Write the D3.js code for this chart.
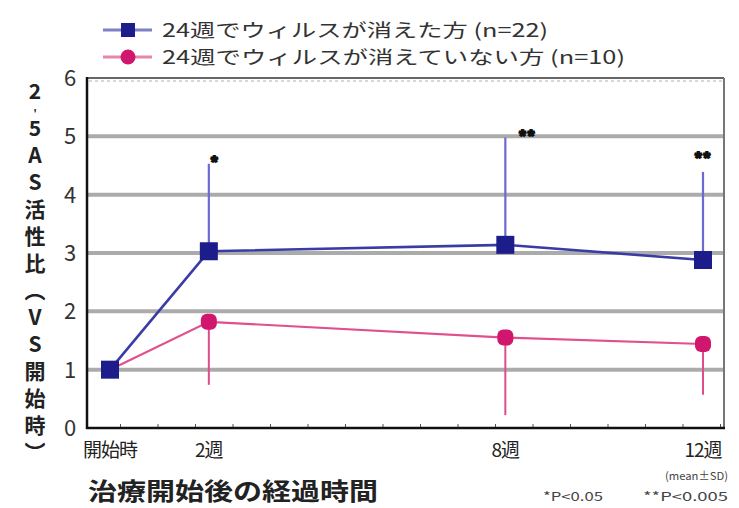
<!DOCTYPE html>
<html>
<head>
<meta charset="utf-8">
<script src="https://cdn.jsdelivr.net/npm/d3@7"></script>
<style>
  body { margin: 0; background: #fff; }
  svg text { font-family: "Noto Sans CJK JP", "Noto Sans", sans-serif; }
</style>
</head>
<body>
<svg id="chart"></svg>
<script>
// data
const weeks = [0, 2, 8, 12];
const weekLabels = ["開始時", "2週", "8週", "12週"];
const clearedMean = [1.0, 3.03, 3.14, 2.88];
const clearedUpper = [1.0, 4.53, 4.98, 4.39];
const notClearedMean = [1.0, 1.82, 1.55, 1.44];
const notClearedLower = [1.0, 0.74, 0.22, 0.57];
const sigMarks = ["", "*", "**", "**"];
const yTicks = [0, 1, 2, 3, 4, 5, 6];
const seriesNames = ["24週でウィルスが消えた方 (n=22)", "24週でウィルスが消えていない方 (n=10)"];
const yTitleParts = ["2", "'", "5AS活性比（VS開始時）"];
const xTitle = "治療開始後の経過時間";
const notes = ["(mean±SD)", "*P<0.05", "**P<0.005"];

const W = 739, H = 508;
const svg = d3.select("#chart").attr("width", W).attr("height", H);

const frame = { left: 87, right: 724, top: 78, bottom: 428 };
const x = d3.scaleLinear().domain([0, 12]).range([110, 703]);
const y = d3.scaleLinear().domain([0, 6]).range([frame.bottom, frame.top]);

const blueLine = "#3b3ba6", blueMark = "#1c1c8a", blueErr = "#6a6ad0";
const pinkLine = "#e0508c", pinkMark = "#d1166e", pinkErr = "#dd4d8a";

// gridlines
svg.append("g")
  .selectAll("line")
  .data(yTicks.filter(d => d > 0 && d < 6))
  .join("line")
  .attr("x1", frame.left + 1).attr("x2", frame.right - 1)
  .attr("y1", d => y(d)).attr("y2", d => y(d))
  .attr("stroke", "#ababab").attr("stroke-width", 4);

// frame: top and right grey, left and bottom black
svg.append("line").attr("x1", frame.left).attr("x2", frame.right)
  .attr("y1", frame.top).attr("y2", frame.top)
  .attr("stroke", "#666").attr("stroke-width", 2);
svg.append("line").attr("x1", frame.left + 2).attr("x2", frame.right - 2)
  .attr("y1", frame.top + 3).attr("y2", frame.top + 3)
  .attr("stroke", "#ccc").attr("stroke-width", 1.5).attr("stroke-dasharray", "3,3");
svg.append("line").attr("x1", frame.right).attr("x2", frame.right)
  .attr("y1", frame.top).attr("y2", frame.bottom)
  .attr("stroke", "#777").attr("stroke-width", 2);

// bottom axis with small inward ticks
const tickScale = d3.scaleLinear().domain([0, 16]).range([120, 720]);
svg.append("g")
  .attr("transform", `translate(0,${frame.bottom})`)
  .call(d3.axisBottom(tickScale).tickValues(d3.range(0, 17)).tickSize(-4).tickFormat(""))
  .call(g => g.select(".domain").remove())
  .selectAll("line").attr("stroke", "#555");
svg.append("line").attr("x1", frame.left - 1).attr("x2", frame.right + 1)
  .attr("y1", frame.bottom).attr("y2", frame.bottom)
  .attr("stroke", "#111").attr("stroke-width", 2.5);
svg.append("line").attr("x1", frame.left).attr("x2", frame.left)
  .attr("y1", frame.top - 1).attr("y2", frame.bottom + 1)
  .attr("stroke", "#111").attr("stroke-width", 2.5);

// y tick labels
svg.append("g")
  .selectAll("text")
  .data(yTicks)
  .join("text")
  .attr("x", 70).attr("y", d => y(d))
  .attr("dy", "0.36em")
  .attr("text-anchor", "middle")
  .style("font-size", "22px").style("fill", "#333")
  .text(d => d);

// x tick labels
svg.append("g")
  .selectAll("text")
  .data(weeks)
  .join("text")
  .attr("x", d => x(d)).attr("y", 457)
  .attr("text-anchor", "middle")
  .style("font-size", "19px").style("fill", "#222")
  .style("letter-spacing", "-1px")
  .text((d, i) => weekLabels[i]);

// x axis title
svg.append("text")
  .attr("x", 88).attr("y", 500)
  .attr("textLength", 290).attr("lengthAdjust", "spacingAndGlyphs")
  .style("font-size", "24px").style("font-weight", "bold").style("fill", "#222")
  .text(xTitle);

// y axis title, vertical upright text
const yt = svg.append("text")
  .attr("x", 35).attr("y", 81)
  .style("writing-mode", "vertical-rl")
  .style("text-orientation", "upright")
  .style("font-size", "21px").style("font-weight", "bold").style("fill", "#222")
  .style("letter-spacing", "6px");
yt.selectAll("tspan")
  .data(yTitleParts)
  .join("tspan")
  .style("font-size", d => d === "'" ? "10px" : null)
  .style("letter-spacing", d => d === "'" ? "0px" : null)
  .text(d => d);

// footnotes
svg.append("text").attr("x", 665).attr("y", 480)
  .attr("textLength", 63).attr("lengthAdjust", "spacingAndGlyphs")
  .style("font-size", "11px").style("fill", "#444").text(notes[0]);
svg.append("text").attr("x", 543).attr("y", 501)
  .attr("textLength", 60).attr("lengthAdjust", "spacingAndGlyphs")
  .style("font-size", "12px").style("fill", "#444").text(notes[1]);
svg.append("text").attr("x", 643).attr("y", 501)
  .attr("textLength", 85).attr("lengthAdjust", "spacingAndGlyphs")
  .style("font-size", "12px").style("fill", "#444").text(notes[2]);

// error bars
const errG = svg.append("g");
errG.selectAll(".eb-blue")
  .data(weeks.slice(1))
  .join("line")
  .attr("x1", d => x(d)).attr("x2", d => x(d))
  .attr("y1", (d, i) => y(clearedMean[i + 1]))
  .attr("y2", (d, i) => y(clearedUpper[i + 1]))
  .attr("stroke", blueErr).attr("stroke-width", 2.2);
errG.selectAll(".eb-pink")
  .data(weeks.slice(1))
  .join("line")
  .attr("x1", d => x(d)).attr("x2", d => x(d))
  .attr("y1", (d, i) => y(notClearedMean[i + 1]))
  .attr("y2", (d, i) => y(notClearedLower[i + 1]))
  .attr("stroke", pinkErr).attr("stroke-width", 2);

// significance marks
const sigDx = [0, 6, 22, 0];
svg.append("g")
  .selectAll("text")
  .data(weeks)
  .join("text")
  .attr("x", (d, i) => x(d) + sigDx[i])
  .attr("y", (d, i) => y(clearedUpper[i]) + (i === 3 ? -8 : 4))
  .attr("text-anchor", "middle")
  .style("font-size", "15px").style("font-weight", "bold")
  .style("fill", "#111").style("stroke", "#111").style("stroke-width", 2.2)
  .style("letter-spacing", "1px")
  .text((d, i) => sigMarks[i]);

// lines
const line = d3.line().x(d => x(d[0])).y(d => y(d[1]));
svg.append("path")
  .attr("d", line(weeks.map((w, i) => [w, notClearedMean[i]])))
  .attr("fill", "none").attr("stroke", pinkLine).attr("stroke-width", 2.2);
svg.append("path")
  .attr("d", line(weeks.map((w, i) => [w, clearedMean[i]])))
  .attr("fill", "none").attr("stroke", blueLine).attr("stroke-width", 2.6);

// markers
svg.append("g")
  .selectAll("rect")
  .data(weeks.slice(1))
  .join("rect")
  .attr("x", d => x(d) - 8).attr("y", (d, i) => y(notClearedMean[i + 1]) - 8)
  .attr("width", 16).attr("height", 16).attr("rx", 6)
  .attr("fill", pinkMark);
svg.append("g")
  .selectAll("rect")
  .data(weeks)
  .join("rect")
  .attr("x", d => x(d) - 9).attr("y", (d, i) => y(clearedMean[i]) - 9)
  .attr("width", 18).attr("height", 18)
  .attr("fill", blueMark);

// legend
const legend = svg.append("g");
const legendY = [30, 57];
const legendLen = [386, 463];
legend.selectAll("line")
  .data(seriesNames)
  .join("line")
  .attr("x1", 103).attr("x2", 152)
  .attr("y1", (d, i) => legendY[i]).attr("y2", (d, i) => legendY[i])
  .attr("stroke", (d, i) => i === 0 ? "#8080c8" : "#e986b0").attr("stroke-width", 3);
legend.append("rect").attr("x", 121).attr("y", legendY[0] - 7)
  .attr("width", 14).attr("height", 14).attr("fill", blueMark);
legend.append("circle").attr("cx", 128).attr("cy", legendY[1])
  .attr("r", 7.5).attr("fill", pinkMark);
legend.selectAll("text")
  .data(seriesNames)
  .join("text")
  .attr("x", 162).attr("y", (d, i) => legendY[i])
  .attr("dy", "0.36em")
  .attr("textLength", (d, i) => legendLen[i]).attr("lengthAdjust", "spacingAndGlyphs")
  .style("font-size", "18.5px").style("fill", "#333")
  .text(d => d);
</script>
</body>
</html>
